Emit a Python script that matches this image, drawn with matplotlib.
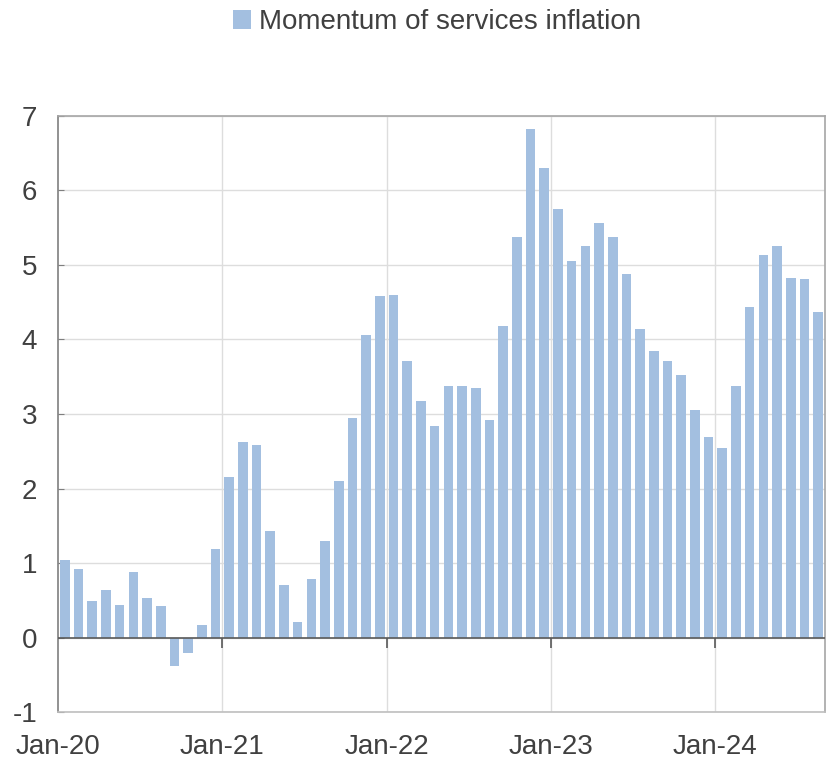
import matplotlib
matplotlib.use('Agg')
import matplotlib.pyplot as plt

# momentum of services inflation, monthly Jan-20 .. Aug-24
values = [1.04, 0.92, 0.49, 0.64, 0.43, 0.88, 0.53, 0.42, -0.38, -0.21, 0.17, 1.19,
          2.16, 2.62, 2.59, 1.43, 0.70, 0.21, 0.79, 1.30, 2.10, 2.94, 4.06, 4.58,
          4.60, 3.71, 3.17, 2.84, 3.38, 3.38, 3.35, 2.92, 4.18, 5.38, 6.82, 6.30,
          5.75, 5.06, 5.26, 5.56, 5.37, 4.88, 4.14, 3.85, 3.71, 3.53, 3.06, 2.69,
          2.54, 3.38, 4.43, 5.14, 5.25, 4.82, 4.81, 4.37]
year_labels = ['Jan-20', 'Jan-21', 'Jan-22', 'Jan-23', 'Jan-24']
year_pos = [0, 12, 24, 36, 48]
yticks = [-1, 0, 1, 2, 3, 4, 5, 6, 7]

bar_color = '#A3BFE0'
text_color = '#404040'
grid_color = '#DDDDDD'

plt.rcParams['font.family'] = ['Liberation Sans', 'DejaVu Sans']

fig = plt.figure(figsize=(8.32, 7.59), dpi=100)
ax = fig.add_axes([0.0697, 0.0619, 0.9219, 0.7853])

x = [i + 0.5 for i in range(len(values))]
ax.bar(x, values, width=0.7, color=bar_color, label='Momentum of services inflation', zorder=3)

ax.set_xlim(0, len(values))
ax.set_ylim(-1, 7)
ax.set_yticks(yticks)
ax.set_yticklabels([str(t) for t in yticks])
ax.set_xticks(year_pos)
ax.set_xticklabels(year_labels)

ax.grid(True, axis='y', color=grid_color, linewidth=1, zorder=0)
for p in year_pos[1:]:
    ax.axvline(p, color=grid_color, linewidth=1, zorder=0)

ax.axhline(0, color='#595959', linewidth=1.2, zorder=4)
ax.plot(year_pos[1:], [0] * 4, linestyle='none', marker=3, markersize=7,
        color='#595959', markeredgewidth=1.2, zorder=4)

for s in ax.spines.values():
    s.set_color('#A6A6A6')
    s.set_linewidth(1.2)
ax.spines['left'].set_color('#7F7F7F')
ax.spines['bottom'].set_color('#BFBFBF')

ax.tick_params(axis='x', length=0, labelsize=20, labelcolor=text_color, pad=16)
ax.tick_params(axis='y', direction='in', length=4, color='#7F7F7F',
               labelsize=20, labelcolor=text_color, pad=15)

fig.legend(loc='upper center', bbox_to_anchor=(0.525, 1.021), frameon=False,
           fontsize=20, labelcolor=text_color, handlelength=0.65, handleheight=0.65,
           handletextpad=0.3)

fig.savefig('out.png', dpi=100)
